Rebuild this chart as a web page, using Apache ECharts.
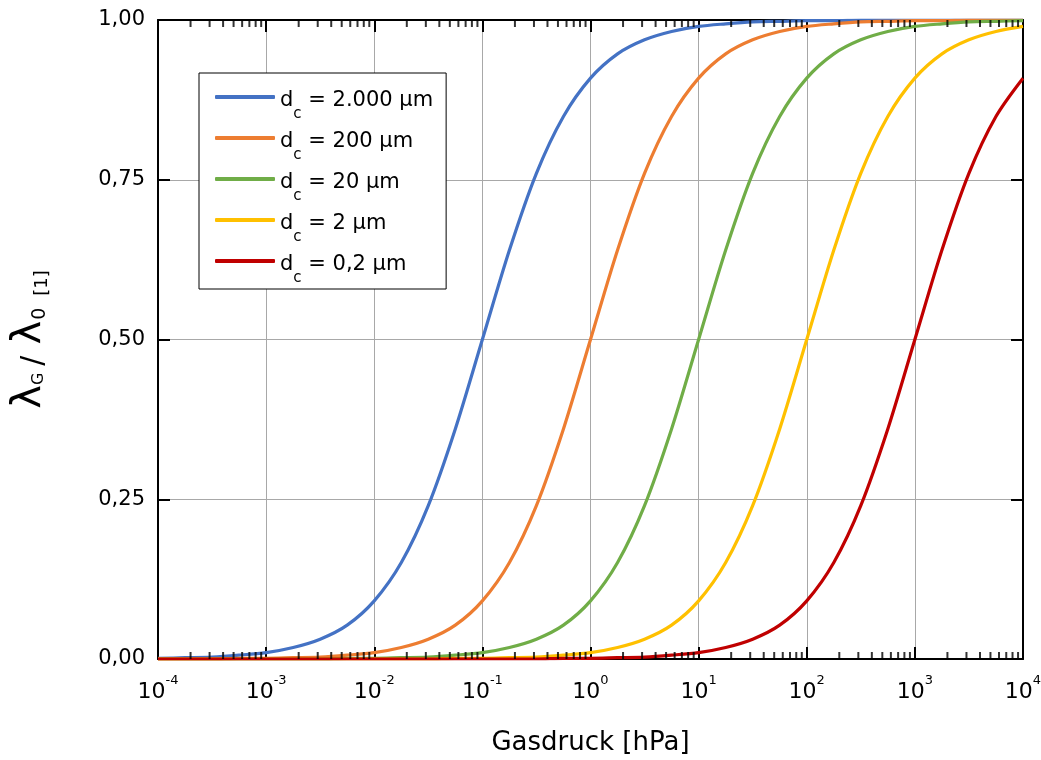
<!DOCTYPE html>
<html>
<head>
<meta charset="utf-8">
<script src="https://cdn.jsdelivr.net/npm/echarts@6/dist/echarts.min.js"></script>
<style>
  html, body { margin: 0; padding: 0; background: #fff; }
  #chart { width: 1041px; height: 760px; }
</style>
</head>
<body>
<div id="chart"></div>
<script>
// Gas pressure samples [hPa], quarter-decade steps from 1e-4 to 1e4
const pressure = [
  1e-4, 1.78e-4, 3.16e-4, 5.62e-4,
  1e-3, 1.78e-3, 3.16e-3, 5.62e-3,
  1e-2, 1.78e-2, 3.16e-2, 5.62e-2,
  0.1, 0.178, 0.316, 0.562,
  1, 1.78, 3.16, 5.62,
  10, 17.8, 31.6, 56.2,
  100, 178, 316, 562,
  1000, 1780, 3160, 5620,
  10000
];

// Relative gas conductivity λG/λ0 for each pore size d_c
const lambda2000 = [0.001, 0.002, 0.003, 0.006, 0.010, 0.018, 0.031, 0.053, 0.091, 0.151, 0.240, 0.360,
  0.500, 0.640, 0.760, 0.849, 0.909, 0.947, 0.969, 0.982, 0.990, 0.994, 0.997, 0.998,
  0.999, 0.999, 1.000, 1.000, 1.000, 1.000, 1.000, 1.000, 1.000];
const lambda200 = [0.000, 0.000, 0.000, 0.001, 0.001, 0.002, 0.003, 0.006, 0.010, 0.018, 0.031, 0.053,
  0.091, 0.151, 0.240, 0.360, 0.500, 0.640, 0.760, 0.849, 0.909, 0.947, 0.969, 0.982,
  0.990, 0.994, 0.997, 0.998, 0.999, 0.999, 1.000, 1.000, 1.000];
const lambda20 = [0.000, 0.000, 0.000, 0.000, 0.000, 0.000, 0.000, 0.001, 0.001, 0.002, 0.003, 0.006,
  0.010, 0.018, 0.031, 0.053, 0.091, 0.151, 0.240, 0.360, 0.500, 0.640, 0.760, 0.849,
  0.909, 0.947, 0.969, 0.982, 0.990, 0.994, 0.997, 0.998, 0.999];
const lambda2 = [0.000, 0.000, 0.000, 0.000, 0.000, 0.000, 0.000, 0.000, 0.000, 0.000, 0.000, 0.001,
  0.001, 0.002, 0.003, 0.006, 0.010, 0.018, 0.031, 0.053, 0.091, 0.151, 0.240, 0.360,
  0.500, 0.640, 0.760, 0.849, 0.909, 0.947, 0.969, 0.982, 0.990];
const lambda02 = [0.000, 0.000, 0.000, 0.000, 0.000, 0.000, 0.000, 0.000, 0.000, 0.000, 0.000, 0.000,
  0.000, 0.000, 0.000, 0.001, 0.001, 0.002, 0.003, 0.006, 0.010, 0.018, 0.031, 0.053,
  0.091, 0.151, 0.240, 0.360, 0.500, 0.640, 0.760, 0.849, 0.909];

const poreSizes = ['2.000 µm', '200 µm', '20 µm', '2 µm', '0,2 µm'];
const seriesValues = [lambda2000, lambda200, lambda20, lambda2, lambda02];
const seriesColors = ['#4472C4', '#ED7D31', '#70AD47', '#FFC000', '#C00000'];

// Log-axis minor tick factors within each decade
const decadeStarts = [1e-4, 1e-3, 1e-2, 1e-1, 1, 10, 100, 1000];
const minorFactors = [2, 3, 4, 5, 6, 7, 8, 9];

const FONT = 'DejaVu Sans';
const minorTicks = [];
decadeStarts.forEach(d => minorFactors.forEach(f => minorTicks.push(f * d)));

const lineSeries = poreSizes.map((name, i) => ({
  name: name,
  type: 'line',
  xAxisIndex: 0,
  yAxisIndex: 0,
  data: pressure.map((p, j) => [p, seriesValues[i][j]]),
  showSymbol: false,
  symbol: 'none',
  smooth: 0.3,
  lineStyle: { color: seriesColors[i], width: 3.2 },
  itemStyle: { color: seriesColors[i] },
  z: 3
}));

const tickSeries = [
  {
    type: 'scatter', xAxisIndex: 0, yAxisIndex: 0, silent: true, clip: false,
    data: minorTicks.map(x => [x, 0]),
    symbol: 'rect', symbolSize: [2, 7], symbolOffset: [0, -3.5],
    itemStyle: { color: '#000' }, z: 4
  },
  {
    type: 'scatter', xAxisIndex: 0, yAxisIndex: 0, silent: true, clip: false,
    data: minorTicks.map(x => [x, 1]),
    symbol: 'rect', symbolSize: [2, 7], symbolOffset: [0, 3.5],
    itemStyle: { color: '#000' }, z: 4
  }
];

const frameLine = { show: true, onZero: false, lineStyle: { color: '#000', width: 2 } };
const majorTick = { show: true, inside: true, length: 12, lineStyle: { color: '#000', width: 2 } };

const chart = echarts.init(document.getElementById('chart'), null, { renderer: 'canvas' });
chart.setOption({
  animation: false,
  backgroundColor: '#fff',
  grid: { left: 158, right: 18, top: 20, bottom: 101, containLabel: false, outerBoundsMode: 'none' },
  legend: {
    data: poreSizes,
    orient: 'vertical',
    left: 199,
    top: 73,
    itemWidth: 60,
    itemHeight: 4,
    itemGap: 4,
    icon: 'roundRect',
    padding: [12, 13, 3, 16],
    backgroundColor: '#fff',
    borderColor: '#000',
    borderWidth: 1,
    selectedMode: false,
    formatter: name => '{m|d}{s|c}{m| = ' + name + '}',
    textStyle: {
      color: '#000',
      fontFamily: FONT,
      rich: {
        m: { fontFamily: FONT, fontSize: 21, lineHeight: 24, padding: [5, 0, 0, 0], verticalAlign: 'top', color: '#000' },
        s: { fontFamily: FONT, fontSize: 15, lineHeight: 15, padding: [22, 0, 0, 0], verticalAlign: 'top', color: '#000' }
      }
    }
  },
  xAxis: [
    {
      type: 'log', logBase: 10, min: 1e-4, max: 1e4, position: 'bottom',
      axisLine: frameLine,
      axisTick: majorTick,
      minorTick: { show: false },
      splitLine: { show: true, lineStyle: { color: '#a8a8a8', width: 1 } },
      axisLabel: {
        margin: 14,
        formatter: v => '{b|10}{e|' + Math.round(Math.log10(v)) + '}',
        rich: {
          b: { fontFamily: FONT, fontSize: 22, lineHeight: 26, padding: [8, 0, 0, 0], verticalAlign: 'top', color: '#000' },
          e: { fontFamily: FONT, fontSize: 13, lineHeight: 13, padding: [1, 0, 0, 0], verticalAlign: 'top', color: '#000' }
        }
      },
      name: 'Gasdruck [hPa]',
      nameLocation: 'middle',
      nameGap: 69,
      nameTextStyle: { fontFamily: FONT, fontSize: 26, lineHeight: 30, color: '#000' }
    },
    {
      type: 'log', logBase: 10, min: 1e-4, max: 1e4, position: 'top',
      axisLine: frameLine,
      axisTick: majorTick,
      axisLabel: { show: false },
      splitLine: { show: false }
    }
  ],
  yAxis: [
    {
      type: 'value', min: 0, max: 1, interval: 0.25, position: 'left',
      axisLine: frameLine,
      axisTick: majorTick,
      splitLine: { show: true, lineStyle: { color: '#a8a8a8', width: 1 } },
      axisLabel: {
        margin: 13,
        fontFamily: FONT,
        fontSize: 21,
        color: '#000',
        formatter: v => v.toFixed(2).replace('.', ',')
      },
      name: '{l|λ}{sg|G}{sl|/}{l|λ}{s0|0}{u|[1]}',
      nameLocation: 'middle',
      nameRotate: 90,
      nameGap: 108,
      nameTextStyle: {
        color: '#000',
        rich: {
          l: { fontFamily: FONT, fontSize: 40, lineHeight: 40, verticalAlign: 'top', color: '#000' },
          sg: { fontFamily: FONT, fontSize: 16, lineHeight: 16, padding: [21, 0, 0, 0], verticalAlign: 'top', color: '#000' },
          sl: { fontFamily: FONT, fontSize: 30, lineHeight: 30, padding: [9, 11, 0, 7], verticalAlign: 'top', color: '#000' },
          s0: { fontFamily: FONT, fontSize: 19, lineHeight: 19, padding: [21, 0, 0, 1], verticalAlign: 'top', color: '#000' },
          u: { fontFamily: FONT, fontSize: 18, lineHeight: 18, padding: [23, 0, 0, 12], verticalAlign: 'top', color: '#000' }
        }
      }
    },
    {
      type: 'value', min: 0, max: 1, interval: 0.25, position: 'right',
      axisLine: frameLine,
      axisTick: majorTick,
      axisLabel: { show: false },
      splitLine: { show: false }
    }
  ],
  series: lineSeries.concat(tickSeries)
});
</script>
</body>
</html>
